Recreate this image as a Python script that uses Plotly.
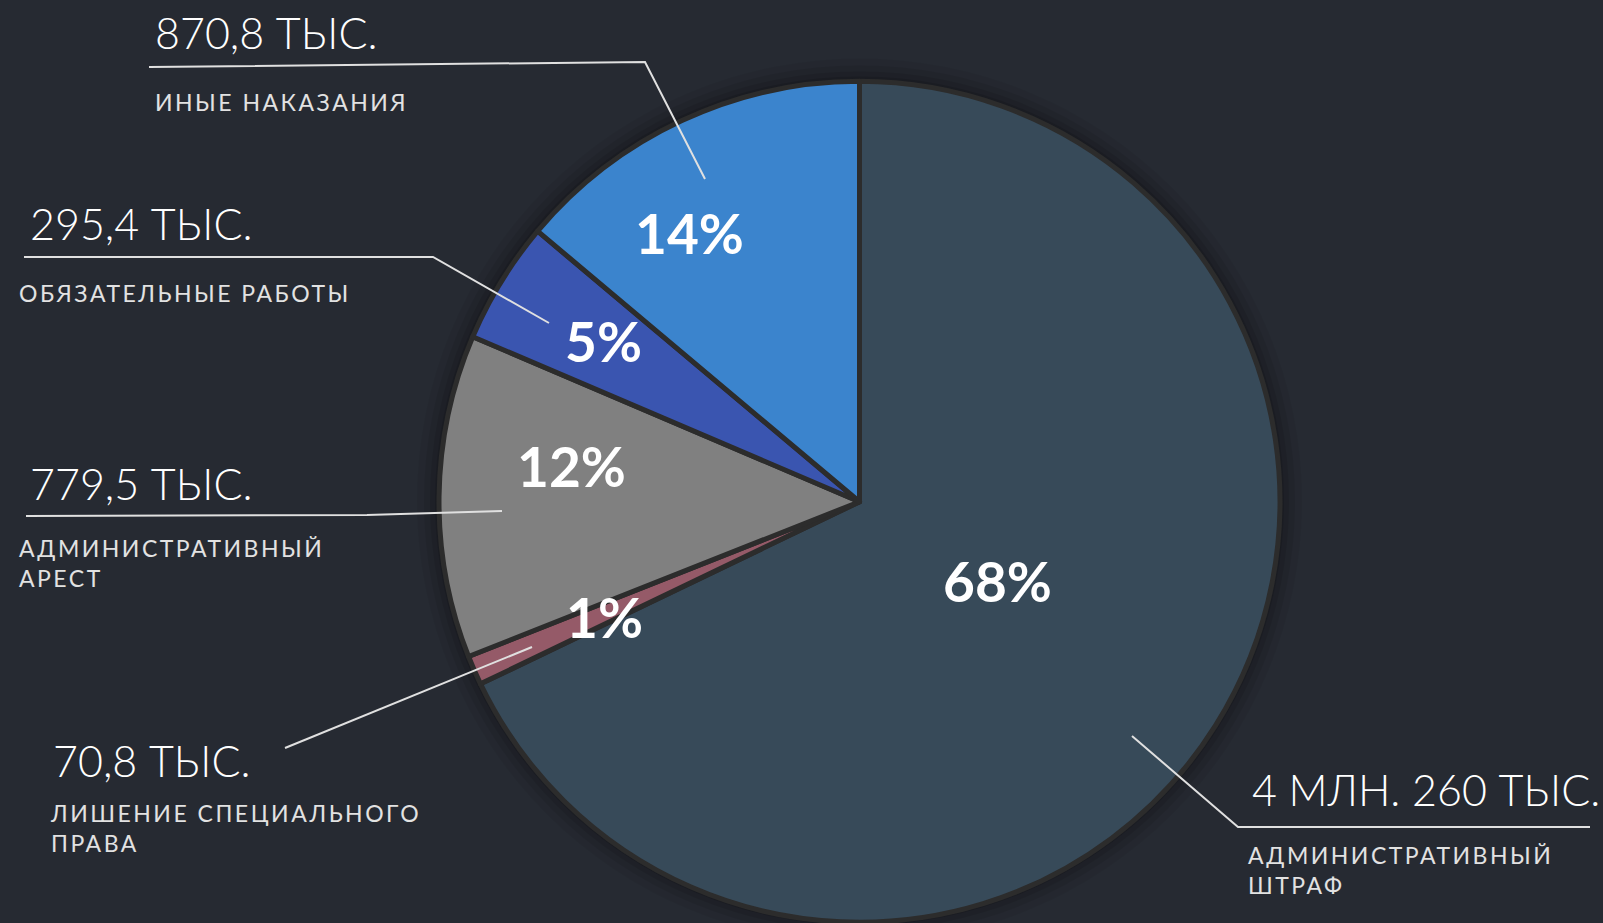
import plotly.graph_objects as go

# data
categories = ["АДМИНИСТРАТИВНЫЙ ШТРАФ", "ЛИШЕНИЕ СПЕЦИАЛЬНОГО ПРАВА", "АДМИНИСТРАТИВНЫЙ АРЕСТ",
              "ОБЯЗАТЕЛЬНЫЕ РАБОТЫ", "ИНЫЕ НАКАЗАНИЯ"]
values = [4260000, 70800, 779500, 295400, 870800]
value_labels = ["4 МЛН. 260 ТЫС.", "70,8 ТЫС.", "779,5 ТЫС.", "295,4 ТЫС.", "870,8 ТЫС."]
sub_labels = ["АДМИНИСТРАТИВНЫЙ<br>ШТРАФ", "ЛИШЕНИЕ СПЕЦИАЛЬНОГО<br>ПРАВА", "АДМИНИСТРАТИВНЫЙ<br>АРЕСТ",
              "ОБЯЗАТЕЛЬНЫЕ РАБОТЫ", "ИНЫЕ НАКАЗАНИЯ"]

colors = ["#374a59", "#955a68", "#808080", "#3a55b0", "#3b84cd"]
BG = "#262a32"
W, H = 1603, 923

def px(x, y):
    return x / W, 1 - y / H

total = sum(values)
percents = [f"{round(v / total * 100)}%" for v in values]

# layout positions (pixels) for each category's texts
value_pos = [(1250, 789), (51, 760), (28, 483), (28, 223), (153, 32)]
sub_pos = [(1246, 870), (48, 828), (17, 563), (17, 293), (153, 102)]
pct_pos = [(997, 581), (604, 617), (571, 466), (603, 341), (689, 233)]
leaders = [
    [(1132, 736), (1238, 827), (1590, 827)],
    [(285, 748), (532, 647)],
    [(26, 516), (367, 515), (502, 511)],
    [(24, 257), (433, 257), (549, 323)],
    [(149, 67), (645, 62), (705, 179)],
]

cx, cy, r = 859.5, 501, 420.5

fig = go.Figure()
fig.add_trace(go.Pie(
    labels=categories, values=values, sort=False, direction="clockwise", rotation=0,
    marker=dict(colors=colors, line=dict(color="#2c2c2c", width=5)),
    textinfo="none", hoverinfo="label+value+percent", showlegend=False,
    domain=dict(x=[(cx - r) / W, (cx + r) / W], y=[0, 1 - (cy - r) / H]),
))

shapes = []
# soft shadow around the pie
for dr, a in [(22, 0.05), (15, 0.07), (9, 0.09), (4, 0.12)]:
    x0, y0 = px(cx - r - dr, cy + r + dr)
    x1, y1 = px(cx + r + dr, cy - r - dr)
    shapes.append(dict(type="circle", xref="paper", yref="paper", x0=x0, y0=y0, x1=x1, y1=y1,
                       fillcolor=f"rgba(0,0,0,{a})", line=dict(width=0), layer="below"))
for pts in leaders:
    path = "M " + " L ".join(f"{px(x, y)[0]:.5f},{px(x, y)[1]:.5f}" for x, y in pts)
    shapes.append(dict(type="path", xref="paper", yref="paper", path=path,
                       line=dict(color="#e0e0e0", width=2)))

annotations = []
for i in range(len(values)):
    x, y = px(*value_pos[i])
    annotations.append(dict(x=x, y=y, xref="paper", yref="paper", text=value_labels[i], showarrow=False,
                            xanchor="left", yanchor="middle",
                            font=dict(family="Lato", size=43, color="#ffffff", weight=300)))
    x, y = px(*sub_pos[i])
    annotations.append(dict(x=x, y=y, xref="paper", yref="paper", text=sub_labels[i], showarrow=False,
                            xanchor="left", yanchor="middle", align="left",
                            font=dict(family="Lato", size=23, color="#e2e2e2")))
    x, y = px(*pct_pos[i])
    annotations.append(dict(x=x, y=y, xref="paper", yref="paper", text=percents[i], showarrow=False,
                            xanchor="center", yanchor="middle",
                            font=dict(family="Lato", size=55, color="#ffffff", weight=700)))

fig.update_layout(
    width=W, height=H, margin=dict(l=0, r=0, t=0, b=0),
    paper_bgcolor=BG, plot_bgcolor=BG,
    shapes=shapes, annotations=annotations,
)

# no page margin; wide tracking on the small caption texts
post = """
document.body.style.margin = '0';
document.querySelectorAll('.annotation-text').forEach(function (t) {
    if (parseFloat(t.style.fontSize) < 30) { t.style.letterSpacing = '2.5px'; }
});
"""
fig.write_html("out.html", post_script=post, config={"displayModeBar": False})
